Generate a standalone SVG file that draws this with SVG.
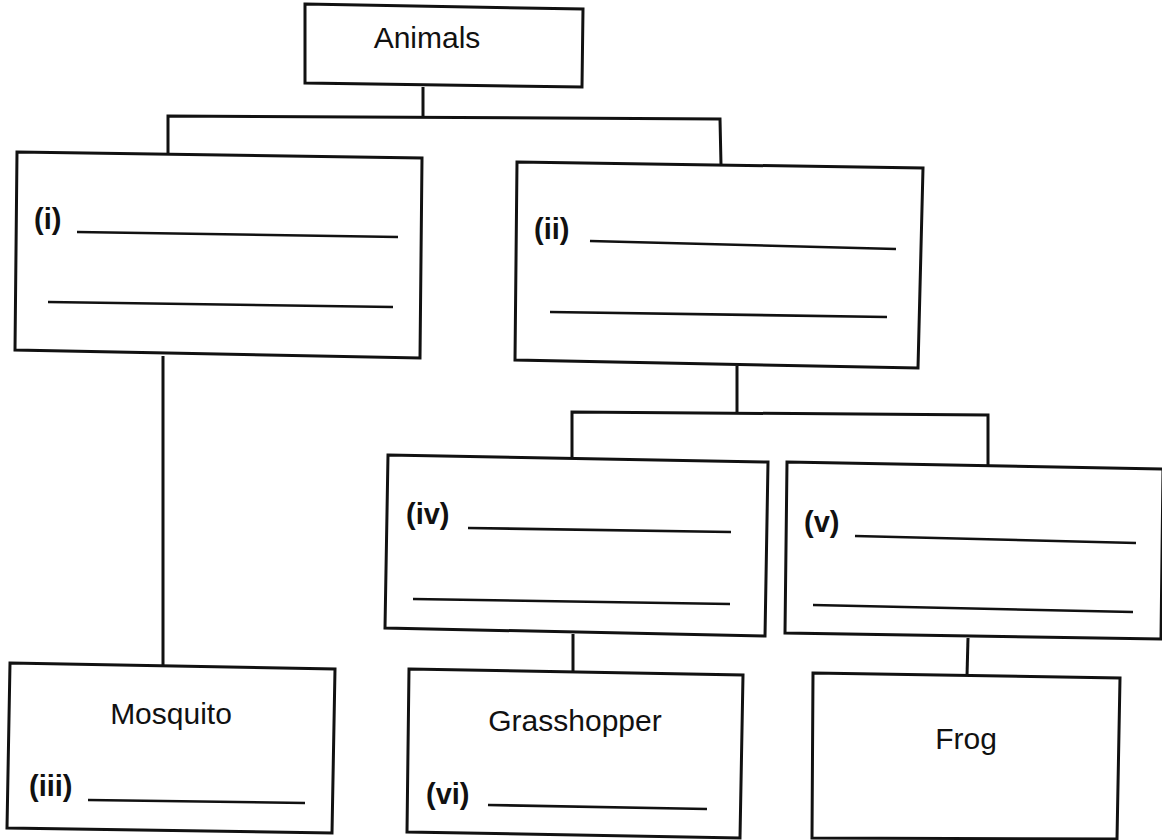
<svg xmlns="http://www.w3.org/2000/svg" width="1162" height="840" viewBox="0 0 1162 840">
<style>
.box{fill:#fff;stroke:#111;stroke-width:3;stroke-linejoin:miter}
.conn{fill:none;stroke:#111;stroke-width:3}
.blank{stroke:#111;stroke-width:2.6}
.name{font-family:"Liberation Sans",Arial,sans-serif;font-size:30px;fill:#111;text-anchor:middle}
.lab{font-family:"Liberation Sans",Arial,sans-serif;font-size:29px;font-weight:bold;fill:#111}
</style>
<rect width="1162" height="840" fill="#fff"/>
<g id="connectors">
<polyline class="conn" points="423,87 423,117"/>
<polyline class="conn" points="168,155 168,116 720,119 721,165"/>
<polyline class="conn" points="163,356 163,666"/>
<polyline class="conn" points="737,366 737,413"/>
<polyline class="conn" points="572,458 572,412 988,415 988,465"/>
<polyline class="conn" points="573,634 573,671"/>
<polyline class="conn" points="968,638 967,676"/>
</g>
<g id="animals">
<polygon class="box" points="305,4 583,9 582,87 305,83"/>
<text class="name" x="427" y="48">Animals</text>
</g>
<g id="box-i">
<polygon class="box" points="17,152 422,158 420,358 15,350"/>
<text class="lab" x="34" y="229">(i)</text>
<line class="blank" x1="77" y1="232" x2="398" y2="237"/>
<line class="blank" x1="48" y1="302" x2="393" y2="307"/>
</g>
<g id="box-ii">
<polygon class="box" points="517,162 923,168 918,368 515,360"/>
<text class="lab" x="534" y="239">(ii)</text>
<line class="blank" x1="590" y1="241" x2="896" y2="249"/>
<line class="blank" x1="550" y1="312" x2="887" y2="317"/>
</g>
<g id="box-iv">
<polygon class="box" points="388,455 768,462 765,636 385,628"/>
<text class="lab" x="406" y="524">(iv)</text>
<line class="blank" x1="468" y1="528" x2="731" y2="532"/>
<line class="blank" x1="413" y1="599" x2="730" y2="604"/>
</g>
<g id="box-v">
<polygon class="box" points="787,462 1163,469 1161,639 785,633"/>
<text class="lab" x="804" y="532">(v)</text>
<line class="blank" x1="855" y1="536" x2="1136" y2="543"/>
<line class="blank" x1="813" y1="605" x2="1133" y2="612"/>
</g>
<g id="mosquito">
<polygon class="box" points="10,663 335,669 332,833 7,828"/>
<text class="name" x="171" y="724">Mosquito</text>
<text class="lab" x="29" y="796">(iii)</text>
<line class="blank" x1="88" y1="800" x2="305" y2="803"/>
</g>
<g id="grasshopper">
<polygon class="box" points="409,669 743,675 740,838 407,832"/>
<text class="name" x="575" y="731">Grasshopper</text>
<text class="lab" x="426" y="804">(vi)</text>
<line class="blank" x1="488" y1="805" x2="707" y2="809"/>
</g>
<g id="frog">
<polygon class="box" points="813,673 1120,678 1117,839 812,838"/>
<text class="name" x="966" y="749">Frog</text>
</g>
</svg>
